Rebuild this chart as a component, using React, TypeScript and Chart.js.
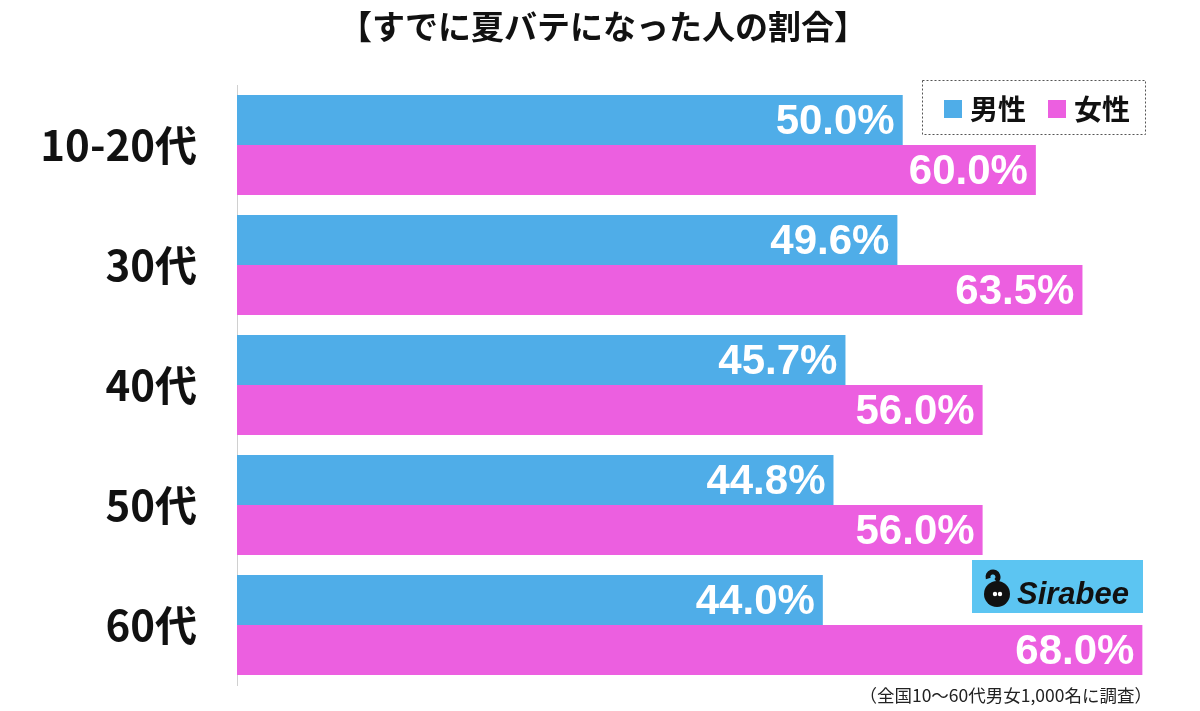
import React, { useEffect, useRef } from "react";
import { Chart, registerables } from "chart.js";

Chart.register(...registerables);

const categories = ["10-20代", "30代", "40代", "50代", "60代"];
const maleValues = [50.0, 49.6, 45.7, 44.8, 44.0];
const femaleValues = [60.0, 63.5, 56.0, 56.0, 68.0];
const seriesNames = ["男性", "女性"];
const titleText = "【すでに夏バテになった人の割合】";
const footnoteText = "（全国10〜60代男女1,000名に調査）";

const BLUE = "#4fade8";
const PINK = "#ec5fe0";
const JP = '"Noto Sans CJK JP", "Liberation Sans", sans-serif';
const NUM = '"Liberation Sans", "Noto Sans CJK JP", sans-serif';

const overlayPlugin = {
  id: "overlay",
  afterDatasetsDraw(chart: any) {
    const ctx = chart.ctx;
    ctx.save();
    // value labels
    chart.data.datasets.forEach((ds: any, di: number) => {
      const meta = chart.getDatasetMeta(di);
      meta.data.forEach((bar: any, i: number) => {
        const v = ds.data[i];
        ctx.font = `bold 42px ${NUM}`;
        ctx.fillStyle = "#ffffff";
        ctx.textAlign = "right";
        ctx.textBaseline = "middle";
        ctx.fillText(v.toFixed(1) + "%", bar.x - 8, bar.y + 2);
      });
    });
    // title
    ctx.font = `bold 33px ${JP}`;
    ctx.fillStyle = "#111";
    ctx.textAlign = "center";
    ctx.textBaseline = "middle";
    ctx.fillText(titleText, 603, 26);
    // legend
    ctx.fillStyle = "#ffffff";
    ctx.fillRect(922, 80, 224, 55);
    ctx.setLineDash([2, 2]);
    ctx.strokeStyle = "#555";
    ctx.lineWidth = 1;
    ctx.strokeRect(922.5, 80.5, 223, 54);
    ctx.setLineDash([]);
    const items = [
      { x: 944, color: BLUE, name: seriesNames[0] },
      { x: 1048, color: PINK, name: seriesNames[1] },
    ];
    items.forEach((it) => {
      ctx.fillStyle = it.color;
      ctx.fillRect(it.x, 100, 18, 18);
      ctx.fillStyle = "#111";
      ctx.font = `bold 28px ${JP}`;
      ctx.textAlign = "left";
      ctx.textBaseline = "middle";
      ctx.fillText(it.name, it.x + 26, 109);
    });
    // logo
    ctx.fillStyle = "#5cc5f2";
    ctx.fillRect(972, 560, 171, 53);
    ctx.fillStyle = "#111";
    ctx.beginPath();
    ctx.arc(997, 594, 13, 0, Math.PI * 2);
    ctx.fill();
    ctx.lineWidth = 5;
    ctx.strokeStyle = "#111";
    ctx.beginPath();
    ctx.arc(993, 577, 5, Math.PI * 0.9, Math.PI * 2.3);
    ctx.stroke();
    ctx.fillStyle = "#ffffff";
    ctx.beginPath();
    ctx.arc(995, 594, 2.2, 0, Math.PI * 2);
    ctx.arc(1000, 594, 2.2, 0, Math.PI * 2);
    ctx.fill();
    ctx.fillStyle = "#111";
    ctx.font = `italic bold 31px ${NUM}`;
    ctx.textAlign = "left";
    ctx.textBaseline = "alphabetic";
    ctx.fillText("Sirabee", 1017, 604);
    // footnote
    ctx.font = `17.5px ${JP}`;
    ctx.fillStyle = "#222";
    ctx.textAlign = "right";
    ctx.textBaseline = "middle";
    ctx.fillText(footnoteText, 1152, 695);
    ctx.restore();
  },
};

export default function App() {
  const ref = useRef<HTMLCanvasElement>(null);
  useEffect(() => {
    document.body.style.margin = "0";
    const chart = new Chart(ref.current!, {
      type: "bar",
      data: {
        labels: categories,
        datasets: [
          { label: seriesNames[0], data: maleValues, backgroundColor: BLUE },
          { label: seriesNames[1], data: femaleValues, backgroundColor: PINK },
        ],
      },
      options: {
        indexAxis: "y",
        animation: false,
        responsive: false,
        layout: { padding: { top: 85, bottom: 26, right: 31, left: 0 } },
        datasets: {
          bar: { categoryPercentage: 100 / 120, barPercentage: 1 },
        },
        scales: {
          x: { display: false, min: 0, max: 70 },
          y: {
            grid: { display: false, drawTicks: false },
            border: { display: true, color: "#d0d0d0", width: 1 },
            ticks: {
              color: "#111",
              padding: 40,
              font: { family: JP, size: 42, weight: "bold" },
            },
            afterFit(scale: any) {
              scale.width = 237;
              scale.paddingTop = 0;
              scale.paddingBottom = 0;
            },
          },
        },
        plugins: {
          legend: { display: false },
          title: { display: false },
          tooltip: { enabled: false },
        },
      },
      plugins: [overlayPlugin],
    } as any);
    return () => chart.destroy();
  }, []);
  return <canvas ref={ref} width={1200} height={711} style={{ display: "block" }} />;
}
